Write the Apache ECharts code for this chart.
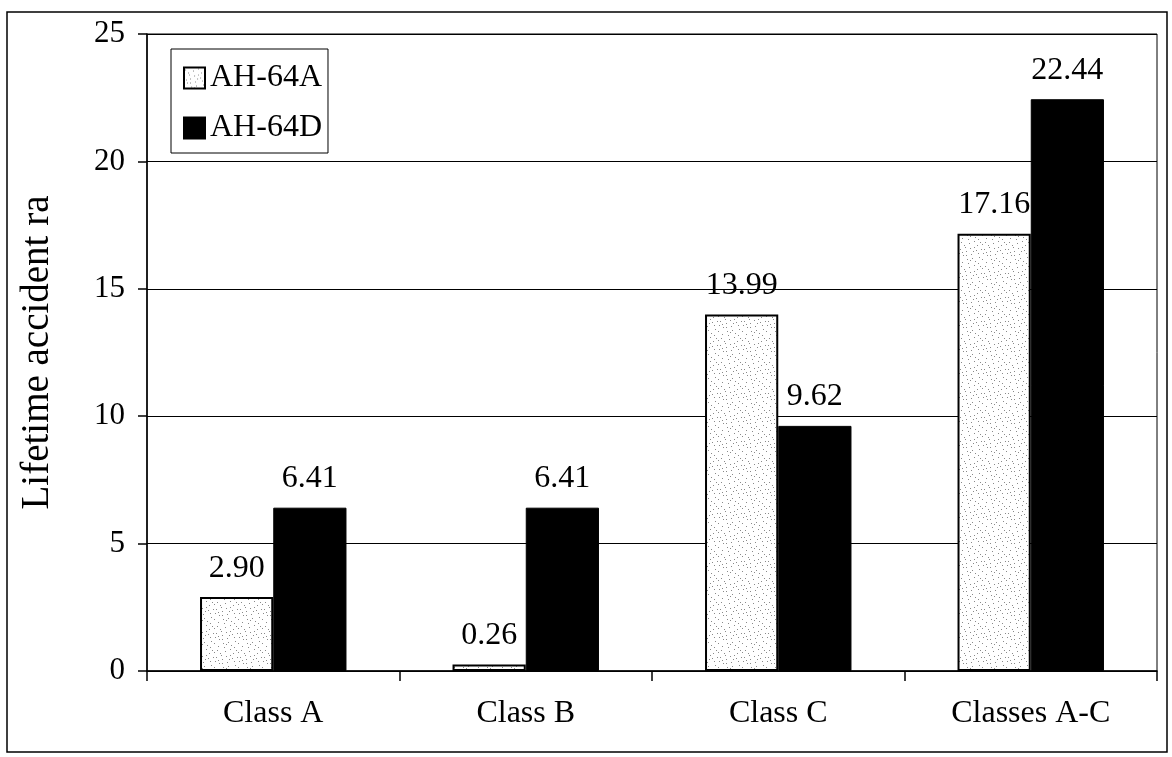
<!DOCTYPE html>
<html>
<head>
<meta charset="utf-8">
<script src="https://cdn.jsdelivr.net/npm/echarts@6/dist/echarts.min.js"></script>
<style>html,body{margin:0;padding:0;background:#fff;}#chart{width:1172px;height:757px;}</style>
</head>
<body>
<div id="chart"></div>
<script>
var categories = ['Class A', 'Class B', 'Class C', 'Classes A-C'];
var seriesNames = ['AH-64A', 'AH-64D'];
var valuesA = [2.90, 0.26, 13.99, 17.16];
var valuesD = [6.41, 6.41, 9.62, 22.44];
var yTicks = [0, 5, 10, 15, 20, 25];

function makeStipple() {
  var c = document.createElement('canvas');
  c.width = 24; c.height = 24;
  var ctx = c.getContext('2d');
  ctx.fillStyle = '#ffffff';
  ctx.fillRect(0, 0, 24, 24);
  ctx.fillStyle = '#8a8a8a';
  var pts = [[1,2],[5,7],[9,3],[13,11],[17,5],[21,9],[3,15],[7,19],[11,14],[15,21],[19,17],[23,13],
             [2,22],[6,11],[10,8],[14,1],[18,23],[22,19],[4,5],[12,18],[16,10],[20,2],[8,23],[0,9],
             [6,15],[14,7],[10,20],[18,13],[2,12],[22,4]];
  pts.forEach(function (p) { ctx.fillRect(p[0], p[1], 1, 1); });
  return c;
}
var stipple = makeStipple();

var font = 'Liberation Serif';
var chart = echarts.init(document.getElementById('chart'));
chart.setOption({
  animation: false,
  backgroundColor: '#fff',
  graphic: [{
    type: 'rect', shape: { x: 7, y: 12, width: 1160, height: 740 },
    style: { fill: 'none', stroke: '#000', lineWidth: 1.5 }, silent: true, z: -1
  }],
  grid: { left: 147, right: 15, top: 34, bottom: 86, show: true, borderColor: '#000', borderWidth: 1, backgroundColor: 'transparent' },
  legend: {
    orient: 'vertical', left: 171, top: 49,
    data: seriesNames,
    backgroundColor: '#fff', borderColor: '#000', borderWidth: 1,
    padding: [13, 6, 9, 12], itemGap: 18, itemWidth: 21, itemHeight: 21,
    textStyle: { fontFamily: font, fontSize: 32, color: '#000', lineHeight: 31 },
    icon: 'rect'
  },
  xAxis: {
    type: 'category', data: categories,
    axisLine: { lineStyle: { color: '#000', width: 1.5 } },
    axisTick: { show: true, length: 10, lineStyle: { color: '#000', width: 1.5 } },
    axisLabel: { fontFamily: font, fontSize: 32, color: '#000', margin: 27 }
  },
  yAxis: {
    type: 'value', min: 0, max: 25, interval: 5,
    name: 'Lifetime accident ra', nameLocation: 'middle', nameGap: 90,
    nameTextStyle: { fontFamily: font, fontSize: 39, color: '#000' },
    axisLine: { show: true, lineStyle: { color: '#000', width: 1.5 } },
    axisTick: { show: true, length: 9, lineStyle: { color: '#000', width: 1.5 } },
    axisLabel: { fontFamily: font, fontSize: 31, color: '#000', margin: 22,
      formatter: function (v) { return yTicks.indexOf(v) >= 0 ? String(v) : ''; } },
    splitLine: { show: true, lineStyle: { color: '#000', width: 1 } }
  },
  series: [{
    name: seriesNames[0], type: 'bar', data: valuesA,
    barGap: '0%', barCategoryGap: '42%',
    itemStyle: { color: { image: stipple, repeat: 'repeat' }, borderColor: '#000', borderWidth: 2 },
    label: { show: true, position: 'top', distance: 13, fontFamily: font, fontSize: 32, color: '#000',
      formatter: function (p) { return p.value.toFixed(2); } }
  }, {
    name: seriesNames[1], type: 'bar', data: valuesD,
    barGap: '0%', barCategoryGap: '42%',
    itemStyle: { color: '#000', borderColor: '#000', borderWidth: 1 },
    label: { show: true, position: 'top', distance: 13, fontFamily: font, fontSize: 32, color: '#000',
      formatter: function (p) { return p.value.toFixed(2); } }
  }]
});
</script>
</body>
</html>
